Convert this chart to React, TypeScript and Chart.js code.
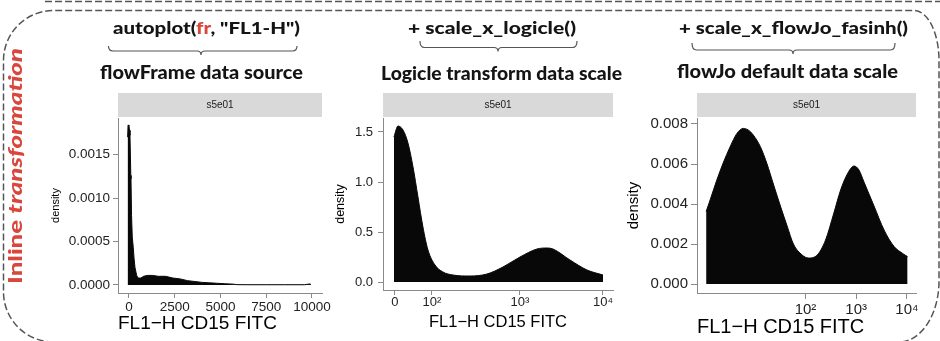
import React, { useEffect, useRef } from 'react';
import { Chart, registerables } from 'chart.js';

Chart.register(...registerables);

// ---------- text ----------
const stripLabel = 's5e01';
const xAxisTitle = 'FL1−H CD15 FITC';
const yAxisTitle = 'density';
const sideLabelPlain = 'Inline ';
const sideLabelItalic = 'transformation';
const codeTitle1 = ['autoplot(', 'fr', ', "FL1-H")'];
const codeTitle2 = '+ scale_x_logicle()';
const codeTitle3 = '+ scale_x_flowJo_fasinh()';
const subTitles = ['flowFrame data source', 'Logicle transform data scale', 'flowJo default data scale'];

// ---------- panel 1: raw linear scale ----------
const rawX = [-75, -50, 0, 30, 55, 100, 110, 140, 180, 235, 280, 330, 420, 500, 650, 800, 1000, 1300, 1600, 2000, 2400, 2800, 3200, 3600, 4000, 4400, 4800, 5200, 5700, 5900, 6500, 7500, 8500, 9600, 9800, 9900, 9950];
const rawY = [0.0017, 0.00184, 0.00183, 0.00178, 0.00172, 0.00126, 0.00122, 0.0008, 0.00055, 0.00043, 0.0003, 0.0002, 0.00011, 0.00008, 0.00008, 0.0001, 0.00011, 0.00011, 0.0001, 0.0001, 0.00008, 0.00007, 0.00005, 0.00004, 0.00003, 0.000025, 0.00002, 0.000015, 0.00001, 0.000004, 0.000003, 0.000003, 0.000003, 0.000003, 0.00001, 0.000012, 0.000003];
const rawTickValuesX = [0, 2500, 5000, 7500, 10000];
const rawTickLabelsX = ['0', '2500', '5000', '7500', '10000'];
const rawTickValuesY = [0, 0.0005, 0.001, 0.0015];
const rawTickLabelsY = ['0.0000', '0.0005', '0.0010', '0.0015'];

// ---------- panel 2: logicle scale ----------
const logicleX = [0.638, 0.685, 0.744, 0.802, 0.861, 0.919, 0.977, 1.036, 1.118, 1.211, 1.328, 1.527, 1.726, 1.913, 2.112, 2.311, 2.428, 2.498, 2.697, 2.896, 3.083];
const logicleY = [1.45, 1.56, 1.52, 1.39, 1.15, 0.85, 0.55, 0.32, 0.17, 0.1, 0.07, 0.06, 0.08, 0.15, 0.25, 0.33, 0.34, 0.33, 0.22, 0.12, 0.07];
const logicleTickValuesX = [0.65, 1.083, 2.112, 3.083];
const logicleTickLabelsX = ['0', '10²', '10³', '10⁴'];
const logicleTickValuesY = [0, 0.5, 1, 1.5];
const logicleTickLabelsY = ['0.0', '0.5', '1.0', '1.5'];

// ---------- panel 3: flowJo fasinh scale ----------
const fasinhX = [0.04, 0.119, 0.251, 0.376, 0.515, 0.648, 0.772, 0.871, 0.97, 1.109, 1.242, 1.366, 1.505, 1.638, 1.762, 1.935, 2.059, 2.232, 2.396, 2.554, 2.693, 2.826, 2.956, 3.055, 3.154, 3.352, 3.55, 3.749, 3.915, 4.014];
const fasinhY = [0.00362, 0.0042, 0.0052, 0.00605, 0.00687, 0.00753, 0.00778, 0.0077, 0.00745, 0.00687, 0.006, 0.005, 0.0039, 0.0029, 0.002, 0.00145, 0.0013, 0.00145, 0.0022, 0.0035, 0.0047, 0.0055, 0.0059, 0.0057, 0.0051, 0.0039, 0.0027, 0.00187, 0.00153, 0.00137];
const fasinhTickValuesX = [2, 3, 4];
const fasinhTickLabelsX = ['10²', '10³', '10⁴'];
const fasinhTickValuesY = [0, 0.002, 0.004, 0.006, 0.008];
const fasinhTickLabelsY = ['0.000', '0.002', '0.004', '0.006', '0.008'];

const FONT = "'Liberation Sans', Arial, Helvetica, sans-serif";
const AXIS = '#8a8a8a';

interface PanelSpec {
  left: number; top: number; width: number; height: number;
  xs: number[]; ys: number[];
  xMin: number; xMax: number; yMin: number; yMax: number;
  xTicks: number[]; xLabels: string[]; yTicks: number[]; yLabels: string[];
  padTop: number; padRight: number; yWidth: number; xHeight: number;
  tickFont: number; tickLen: number; tickPadX: number; tickPadY: number;
  yTitleFont: number; yTitlePad: number; xTitleFont: number; xTitlePad: number; xTitleAlign: 'start' | 'center';
  smooth: boolean;
}

const panels: PanelSpec[] = [
  {
    left: 30, top: 88, width: 307, height: 253,
    xs: rawX, ys: rawY, xMin: -600, xMax: 10550, yMin: -0.000092, yMax: 0.00192,
    xTicks: rawTickValuesX, xLabels: rawTickLabelsX, yTicks: rawTickValuesY, yLabels: rawTickLabelsY,
    padTop: 30, padRight: 15, yWidth: 88, xHeight: 48,
    tickFont: 13.5, tickLen: 5, tickPadX: 1, tickPadY: 3,
    yTitleFont: 11, yTitlePad: 19.4, xTitleFont: 19, xTitlePad: 5.6, xTitleAlign: 'start',
    smooth: false,
  },
  {
    left: 325, top: 88, width: 305, height: 253,
    xs: logicleX, ys: logicleY, xMin: 0.51, xMax: 3.2, yMin: -0.08, yMax: 1.64,
    xTicks: logicleTickValuesX, xLabels: logicleTickLabelsX, yTicks: logicleTickValuesY, yLabels: logicleTickLabelsY,
    padTop: 30, padRight: 17, yWidth: 58, xHeight: 51,
    tickFont: 13, tickLen: 5, tickPadX: 0, tickPadY: 5,
    yTitleFont: 12.5, yTitlePad: 8.5, xTitleFont: 16.5, xTitlePad: 9.1, xTitleAlign: 'center',
    smooth: true,
  },
  {
    left: 620, top: 88, width: 320, height: 253,
    xs: fasinhX, ys: fasinhY, xMin: -0.14, xMax: 4.18, yMin: -0.00045, yMax: 0.0083,
    xTicks: fasinhTickValuesX, xLabels: fasinhTickLabelsX, yTicks: fasinhTickValuesY, yLabels: fasinhTickLabelsY,
    padTop: 30, padRight: 24, yWidth: 77, xHeight: 48,
    tickFont: 15, tickLen: 6, tickPadX: 2, tickPadY: 3,
    yTitleFont: 15, yTitlePad: 5, xTitleFont: 20, xTitlePad: 2, xTitleAlign: 'start',
    smooth: true,
  },
];

const stripPlugin = {
  id: 'strip',
  afterDraw(chart: any, _args: any, opts: any) {
    const { ctx, chartArea } = chart;
    ctx.save();
    ctx.fillStyle = '#d9d9d9';
    ctx.fillRect(chartArea.left, chartArea.top - 25, chartArea.right - chartArea.left, 24);
    ctx.fillStyle = '#1a1a1a';
    ctx.font = `10px ${FONT}`;
    ctx.textAlign = 'center';
    ctx.textBaseline = 'middle';
    ctx.fillText(opts.label, (chartArea.left + chartArea.right) / 2, chartArea.top - 13);
    ctx.restore();
  },
};

function makeChart(canvas: HTMLCanvasElement, p: PanelSpec) {
  return new Chart(canvas, {
    type: 'line',
    data: {
      datasets: [{
        data: p.xs.map((x, i) => ({ x, y: p.ys[i] })),
        fill: 'origin',
        backgroundColor: '#080808',
        borderColor: '#080808',
        borderWidth: 1,
        pointRadius: 0,
        tension: p.smooth ? 0.4 : 0,
        cubicInterpolationMode: p.smooth ? 'monotone' : 'default',
      }],
    },
    options: {
      responsive: false,
      maintainAspectRatio: false,
      animation: false,
      devicePixelRatio: 1,
      layout: { padding: { top: p.padTop, right: p.padRight, left: 0, bottom: 0 } },
      plugins: {
        legend: { display: false },
        tooltip: { enabled: false },
        strip: { label: stripLabel },
      } as any,
      scales: {
        x: {
          type: 'linear',
          min: p.xMin,
          max: p.xMax,
          afterBuildTicks: (s: any) => { s.ticks = p.xTicks.map((v) => ({ value: v })); },
          afterFit: (s: any) => { s.height = p.xHeight; },
          ticks: {
            autoSkip: false, maxRotation: 0, minRotation: 0,
            padding: p.tickPadX,
            font: { family: FONT, size: p.tickFont },
            color: '#222',
            callback: (_v: any, i: number) => p.xLabels[i],
          },
          grid: { drawOnChartArea: false, drawTicks: true, tickLength: p.tickLen, color: AXIS, lineWidth: 1 },
          border: { display: true, color: AXIS, width: 1 },
          title: {
            display: true, text: xAxisTitle, align: p.xTitleAlign, color: '#000',
            font: { family: FONT, size: p.xTitleFont },
            padding: { top: 0, bottom: p.xTitlePad },
          },
        },
        y: {
          type: 'linear',
          min: p.yMin,
          max: p.yMax,
          afterBuildTicks: (s: any) => { s.ticks = p.yTicks.map((v) => ({ value: v })); },
          afterFit: (s: any) => { s.width = p.yWidth; },
          ticks: {
            autoSkip: false,
            padding: p.tickPadY,
            font: { family: FONT, size: p.tickFont },
            color: '#222',
            callback: (_v: any, i: number) => p.yLabels[i],
          },
          grid: { drawOnChartArea: false, drawTicks: true, tickLength: p.tickLen, color: AXIS, lineWidth: 1 },
          border: { display: true, color: AXIS, width: 1 },
          title: {
            display: true, text: yAxisTitle, color: '#000',
            font: { family: FONT, size: p.yTitleFont },
            padding: { top: p.yTitlePad, bottom: 0 },
          },
        },
      },
    } as any,
    plugins: [stripPlugin],
  });
}

const TITLE_FONT = "Lato, 'Open Sans', 'DejaVu Sans', sans-serif";
const RED = '#d8463c';

export default function App() {
  const r0 = useRef<HTMLCanvasElement>(null);
  const r1 = useRef<HTMLCanvasElement>(null);
  const r2 = useRef<HTMLCanvasElement>(null);
  const refs = [r0, r1, r2];

  useEffect(() => {
    const charts = panels.map((p, i) => makeChart(refs[i].current as HTMLCanvasElement, p));
    return () => charts.forEach((c) => c.destroy());
  }, []);

  const brace = (x1: number, yTop: number, yLine: number, xc: number, yDip: number, x2: number) =>
    `M${x1} ${yTop} Q${x1} ${yLine} ${x1 + 4.5} ${yLine} H${xc - 4} Q${xc} ${yLine} ${xc} ${yDip} Q${xc} ${yLine} ${xc + 4} ${yLine} H${x2 - 4.5} Q${x2} ${yLine} ${x2} ${yTop}`;

  return (
    <div style={{ position: 'fixed', left: 0, top: 0, width: 940, height: 341, background: '#fff', overflow: 'hidden' }}>
      {panels.map((p, i) => (
        <canvas
          key={i}
          ref={refs[i]}
          width={p.width}
          height={p.height}
          style={{ position: 'absolute', left: p.left, top: p.top, width: p.width, height: p.height }}
        />
      ))}
      <svg width={940} height={341} style={{ position: 'absolute', left: 0, top: 0, pointerEvents: 'none' }}>
        <line x1={45} y1={1.5} x2={940} y2={1.5} stroke="#555" strokeWidth={1.5} strokeDasharray="7 3" />
        <path
          d="M53.5 342 A50 50 0 0 1 3.5 292 V60.5 A50 50 0 0 1 53.5 10.5 H914 A25 50 0 0 1 939 60.5 V281 A40 61 0 0 1 899 342"
          fill="none" stroke="#555" strokeWidth={1.5} strokeDasharray="7 3"
        />
        <g fill="#141414" fontFamily={TITLE_FONT} fontWeight={900}>
          <text x={113} y={34} fontSize={17} textLength={187} lengthAdjust="spacingAndGlyphs">
            {codeTitle1[0]}<tspan fill={RED}>{codeTitle1[1]}</tspan>{codeTitle1[2]}
          </text>
          <text x={408} y={33.5} fontSize={17} textLength={168} lengthAdjust="spacingAndGlyphs">{codeTitle2}</text>
          <text x={679} y={33.5} fontSize={17} textLength={229} lengthAdjust="spacingAndGlyphs">{codeTitle3}</text>
          <text x={100} y={79} fontSize={18} textLength={203} lengthAdjust="spacingAndGlyphs">{subTitles[0]}</text>
          <text x={381} y={80} fontSize={18} textLength={241} lengthAdjust="spacingAndGlyphs">{subTitles[1]}</text>
          <text x={677} y={78} fontSize={18} textLength={221} lengthAdjust="spacingAndGlyphs">{subTitles[2]}</text>
        </g>
        <g fill="none" stroke="#555" strokeWidth={1.2}>
          <path d={brace(108.5, 46, 51, 201, 55, 297)} />
          <path d={brace(420, 41, 47.5, 498, 51.5, 577)} />
          <path d={brace(692, 43, 50, 793, 54, 895)} />
        </g>
        <text
          transform="translate(21.5,284) rotate(-90)"
          x={0} y={0}
          fill={RED} fontFamily={TITLE_FONT} fontWeight={900} fontSize={18}
          textLength={236} lengthAdjust="spacingAndGlyphs"
        >
          {sideLabelPlain}<tspan fontStyle="italic">{sideLabelItalic}</tspan>
        </text>
      </svg>
    </div>
  );
}
